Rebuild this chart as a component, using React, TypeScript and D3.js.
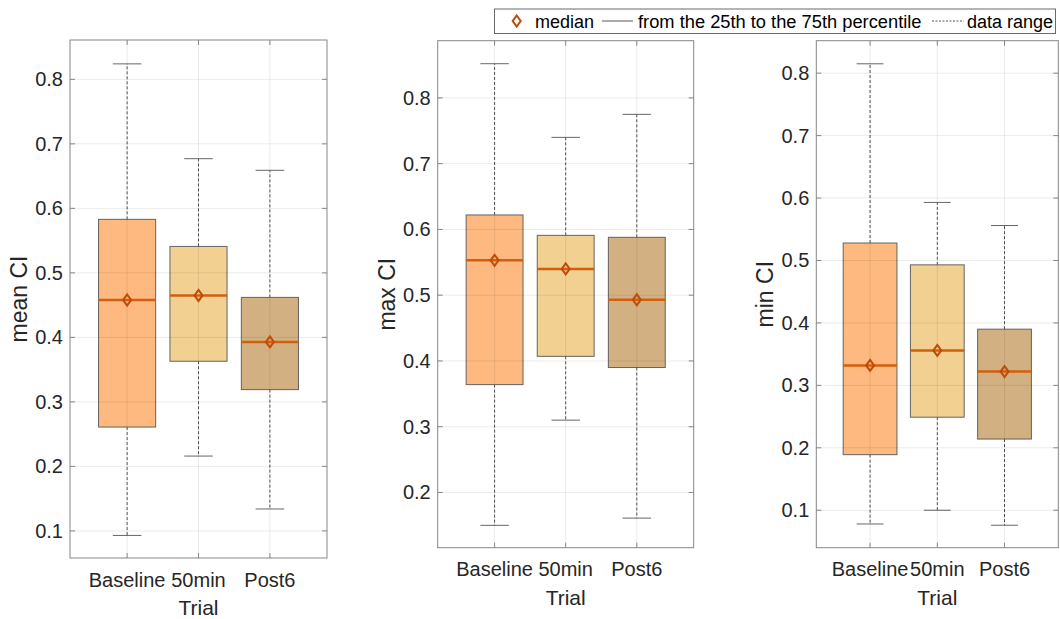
import React from "react";
import * as d3 from "d3";

const categories = ["Baseline", "50min", "Post6"];
const boxColors = ["#FDB97F", "#F1D092", "#D3B081"];

// mean CI
const meanLow = [0.093, 0.216, 0.134];
const meanQ1 = [0.261, 0.363, 0.319];
const meanMed = [0.458, 0.465, 0.393];
const meanQ3 = [0.583, 0.541, 0.462];
const meanHigh = [0.824, 0.677, 0.659];

// max CI
const maxLow = [0.150, 0.310, 0.161];
const maxQ1 = [0.364, 0.407, 0.390];
const maxMed = [0.553, 0.540, 0.493];
const maxQ3 = [0.622, 0.591, 0.588];
const maxHigh = [0.852, 0.740, 0.775];

// min CI
const minLow = [0.078, 0.100, 0.076];
const minQ1 = [0.189, 0.249, 0.214];
const minMed = [0.332, 0.356, 0.322];
const minQ3 = [0.528, 0.493, 0.390];
const minHigh = [0.815, 0.593, 0.556];

const meanTicks = [0.1, 0.2, 0.3, 0.4, 0.5, 0.6, 0.7, 0.8];
const maxTicks = [0.2, 0.3, 0.4, 0.5, 0.6, 0.7, 0.8];
const minTicks = [0.1, 0.2, 0.3, 0.4, 0.5, 0.6, 0.7, 0.8];

const meanDomain = [0.058, 0.861];
const maxDomain = [0.116, 0.887];
const minDomain = [0.04, 0.852];

const legendLabels = ["median", "from the 25th to the 75th percentile", "data range"];

const FONT = "'Liberation Sans', Arial, Helvetica, sans-serif";
const TXT = "#262626";
const AXC = "#868686";
const MED = "#D0600E";
const DIA = "#C04A06";

type PanelProps = {
  x0: number; x1: number; y0: number; y1: number;
  domain: number[]; ticks: number[]; ylabel: string;
  low: number[]; q1: number[]; med: number[]; q3: number[]; high: number[];
};

function Panel(p: PanelProps) {
  const xs = d3.scaleLinear().domain([0.2, 3.8]).range([p.x0, p.x1]);
  const ys = d3.scaleLinear().domain(p.domain).range([p.y1, p.y0]);
  const bw = xs(1.4) - xs(1);
  const cw = xs(1.2) - xs(1);
  const tl = 5;
  const fmt = d3.format(".1f");
  return (
    <g>
      <rect x={p.x0} y={p.y0} width={p.x1 - p.x0} height={p.y1 - p.y0} fill="#fff" />
      {categories.map((c, i) => {
        const cx = xs(i + 1);
        return (
          <g key={c}>
            <line x1={cx} x2={cx} y1={ys(p.q3[i])} y2={ys(p.high[i])} stroke="#555" strokeWidth={1} strokeDasharray="3,2" />
            <line x1={cx} x2={cx} y1={ys(p.q1[i])} y2={ys(p.low[i])} stroke="#555" strokeWidth={1} strokeDasharray="3,2" />
            <line x1={cx - cw} x2={cx + cw} y1={ys(p.high[i])} y2={ys(p.high[i])} stroke="#666" strokeWidth={1} />
            <line x1={cx - cw} x2={cx + cw} y1={ys(p.low[i])} y2={ys(p.low[i])} stroke="#666" strokeWidth={1} />
            <rect x={cx - bw} y={ys(p.q3[i])} width={2 * bw} height={ys(p.q1[i]) - ys(p.q3[i])} fill={boxColors[i]} stroke="#555" strokeOpacity={0.9} strokeWidth={1} />
          </g>
        );
      })}
      {p.ticks.map((t) => (
        <line key={"gy" + t} x1={p.x0} x2={p.x1} y1={ys(t)} y2={ys(t)} stroke="#000" strokeOpacity={0.08} strokeWidth={1} />
      ))}
      {categories.map((c, i) => (
        <line key={"gx" + c} x1={xs(i + 1)} x2={xs(i + 1)} y1={p.y0} y2={p.y1} stroke="#000" strokeOpacity={0.08} strokeWidth={1} />
      ))}
      {categories.map((c, i) => {
        const cx = xs(i + 1);
        const my = ys(p.med[i]);
        return (
          <g key={"m" + c}>
            <line x1={cx - bw} x2={cx + bw} y1={my} y2={my} stroke={MED} strokeWidth={2.5} />
            <path d={`M${cx},${my - 5.5} L${cx + 4},${my} L${cx},${my + 5.5} L${cx - 4},${my} Z`} fill="none" stroke={DIA} strokeWidth={2} />
          </g>
        );
      })}
      <rect x={p.x0} y={p.y0} width={p.x1 - p.x0} height={p.y1 - p.y0} fill="none" stroke={AXC} strokeWidth={1} />
      {p.ticks.map((t) => (
        <g key={"t" + t}>
          <line x1={p.x0} x2={p.x0 + tl} y1={ys(t)} y2={ys(t)} stroke={AXC} />
          <line x1={p.x1} x2={p.x1 - tl} y1={ys(t)} y2={ys(t)} stroke={AXC} />
          <text x={p.x0 - 7} y={ys(t)} dy="0.35em" textAnchor="end" fontFamily={FONT} fontSize={20} fill={TXT}>{fmt(t)}</text>
        </g>
      ))}
      {categories.map((c, i) => (
        <g key={"xt" + c}>
          <line x1={xs(i + 1)} x2={xs(i + 1)} y1={p.y1} y2={p.y1 - tl} stroke={AXC} />
          <line x1={xs(i + 1)} x2={xs(i + 1)} y1={p.y0} y2={p.y0 + tl} stroke={AXC} />
          <text x={xs(i + 1)} y={p.y1 + 28.5} textAnchor="middle" fontFamily={FONT} fontSize={20} fill={TXT}>{c}</text>
        </g>
      ))}
      <text x={(p.x0 + p.x1) / 2} y={p.y1 + 57} textAnchor="middle" fontFamily={FONT} fontSize={21} fill={TXT}>Trial</text>
      <text transform={`translate(${p.x0 - 43},${(p.y0 + p.y1) / 2}) rotate(-90)`} textAnchor="middle" fontFamily={FONT} fontSize={23} fill={TXT}>{p.ylabel}</text>
    </g>
  );
}

export default function App() {
  return (
    <svg width={1060} height={619} style={{ position: "absolute", left: 0, top: 0, background: "#fff" }}>
      <rect width={1060} height={619} fill="#fff" />
      <Panel x0={70} x1={327} y0={40} y1={558} domain={meanDomain} ticks={meanTicks} ylabel="mean CI"
        low={meanLow} q1={meanQ1} med={meanMed} q3={meanQ3} high={meanHigh} />
      <Panel x0={437.7} x1={693.7} y0={40.7} y1={547.7} domain={maxDomain} ticks={maxTicks} ylabel="max CI"
        low={maxLow} q1={maxQ1} med={maxMed} q3={maxQ3} high={maxHigh} />
      <Panel x0={816.3} x1={1058.3} y0={40.7} y1={547.7} domain={minDomain} ticks={minTicks} ylabel="min CI"
        low={minLow} q1={minQ1} med={minMed} q3={minQ3} high={minHigh} />
      <g>
        <rect x={494.5} y={9} width={561} height={24.5} fill="#fff" stroke="#6a6a6a" strokeWidth={1} />
        <path d={`M516.7,${21 - 5.5} L520.7,21 L516.7,${21 + 5.5} L512.7,21 Z`} fill="none" stroke={DIA} strokeWidth={2} />
        <text x={535} y={27.5} fontFamily={FONT} fontSize={18} fill="#000">{legendLabels[0]}</text>
        <line x1={602} x2={633} y1={21} y2={21} stroke="#555" strokeWidth={1} />
        <text x={638} y={27.5} fontFamily={FONT} fontSize={18.3} fill="#000">{legendLabels[1]}</text>
        <line x1={932} x2={964} y1={21} y2={21} stroke="#555" strokeWidth={1} strokeDasharray="2,1.5" />
        <text x={967} y={27.5} fontFamily={FONT} fontSize={18} fill="#000">{legendLabels[2]}</text>
      </g>
    </svg>
  );
}
